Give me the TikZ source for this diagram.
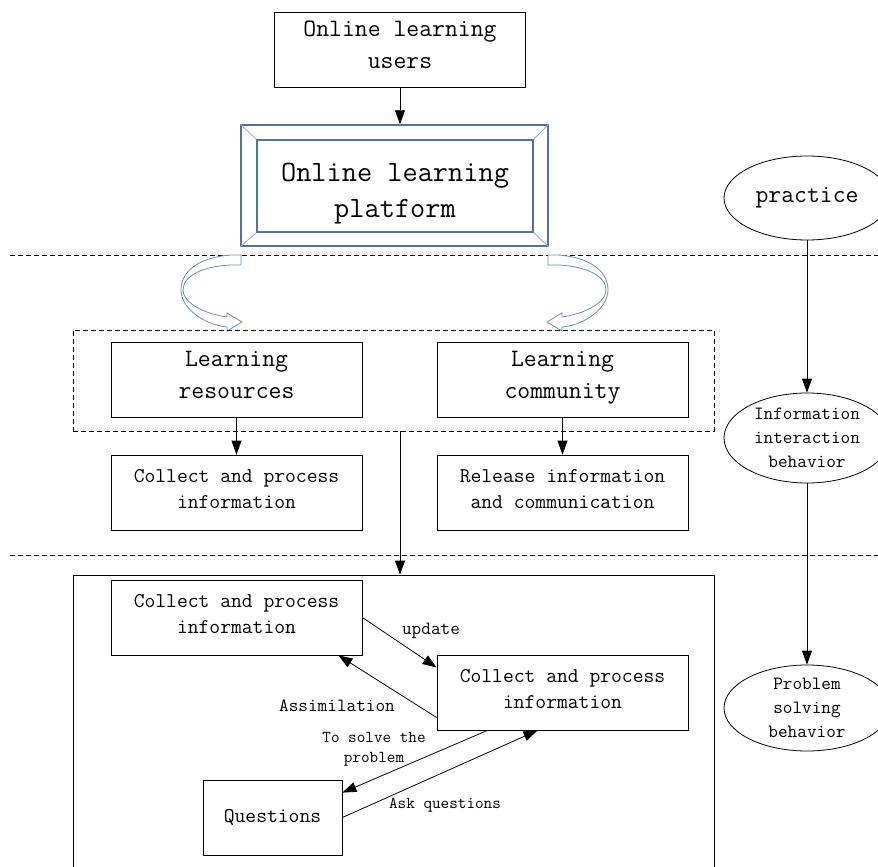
\documentclass[tikz,border=0pt]{standalone}
\usepackage{fontspec}
\usepackage{xcolor}
\usepackage{tikz}
\usetikzlibrary{shapes,arrows.meta,calc,positioning}

\definecolor{frameBlue}{RGB}{84,115,152}
\definecolor{ribbonBlue}{RGB}{112,142,178}
\definecolor{bevelBlue}{RGB}{150,175,205}

\tikzset{
    ribbon/.pic={
        % hollow curved arrow, drawn from its upper end
        \draw[ribbonBlue, line width=0.8pt, fill=white]
            (0,0) -- (-10,0) .. controls (-40,2) and (-60,15) .. (-60,35)
            .. controls (-60,53) and (-37,70) .. (-14,72) -- (-14,76) -- (1,67) -- (-14,58) -- (-14,62)
            .. controls (-36,59) and (-58,48) .. (-58,35)
            .. controls (-58,20) and (-36,11) .. (-10,10) -- (0,10) -- cycle;
    }
}

\begin{document}
\begin{tikzpicture}[x=1pt, y=-1pt,
        box/.style={draw, line width=0.8pt, minimum width=251pt, minimum height=75pt,
                    inner sep=0pt, align=center, execute at begin node=\strut, execute at end node=\strut},
        bigtext/.style={font=\fontsize{25}{32}\selectfont\ttfamily},
        midtext/.style={font=\fontsize{21}{26}\selectfont\ttfamily},
        smalltext/.style={font=\fontsize{18.7}{24}\selectfont\ttfamily},
        tinytext/.style={font=\fontsize{16.7}{20}\selectfont\ttfamily, align=center},
        oval/.style={draw, ellipse, line width=0.8pt, minimum width=166pt, inner sep=0pt, align=center},
        arr/.style={-{Triangle[length=14pt,width=10pt]}, line width=0.8pt},
        sep/.style={dash pattern=on 5pt off 3pt, line width=0.7pt}]

        \useasboundingbox (0,0) rectangle (878,867);

        % separators
        \draw[sep] (10,255) -- (878,255);
        \draw[sep] (10,555) -- (878,555);

        % top part
        \node[box, bigtext] (users) at (400,49.5) {Online learning\\users};
        \node[draw=frameBlue, line width=1.5pt, minimum width=307pt, minimum height=121pt] (frame) at (394.5,185.5) {};
        \node[draw=frameBlue, line width=1.5pt, minimum width=276pt, minimum height=92pt] (platform) at (395,186) {};
        \node[align=center, font=\fontsize{29.5}{36}\selectfont\ttfamily] (ptext) at (395,194) {Online learning\\platform};
        \foreach \c in {north west, north east, south west, south east} {
            \draw[bevelBlue, line width=0.8pt] (frame.\c) -- (platform.\c);
        }
        \draw[arr] (users) -- (users |- frame.north);

        % curved arrows
        \pic at (241,255) {ribbon};
        \pic[xscale=-1] at (548,255) {ribbon};

        % middle part
        \node[draw, sep, minimum width=641pt, minimum height=101pt] (group) at (393.5,380.5) {};
        \node[box, bigtext] (res) at (236.5,380) {Learning\\resources};
        \node[box, bigtext] (com) at (562.5,380) {Learning\\community};
        \node[box, midtext] (col1) at (236.5,492.5) {Collect and process\\information};
        \node[box, midtext] (rel) at (562.5,492.5) {Release information\\and communication};
        \draw[arr] (res) -- (col1);
        \draw[arr] (com) -- (rel);

        % lower part
        \node[draw, line width=0.8pt, minimum width=641pt, minimum height=310pt] (work) at (393.5,730) {};
        \draw[arr] (group.south -| users) -- (work.north -| users);
        \node[box, midtext] (col2) at (236.5,617.5) {Collect and process\\information};
        \node[box, midtext] (col3) at (562.5,692.5) {Collect and process\\information};
        \node[box, midtext, minimum width=139pt] (quest) at (272.5,817.5) {Questions};

        \draw[arr] (col2.east) -- ([yshift=25pt]col3.west);
        \draw[arr] ([yshift=-25pt]col3.west) -- ([xshift=-24pt]col2.south east);
        \draw[arr] ([xshift=-75pt]col3.south) -- ([yshift=-13pt]quest.north east);
        \draw[arr] (quest.east) -- ([xshift=-25pt]col3.south);

        \node[smalltext] (lupdate) at (431,631) {update};
        \node[smalltext] (lassim) at (337,706) {Assimilation};
        \node[tinytext] (lsolve) at (374,749) {To solve the\\problem};
        \node[tinytext] (lask) at (445,805) {Ask questions};

        % right column
        \node[oval, bigtext, minimum height=84pt] (practice) at (807,198) {practice};
        \node[oval, smalltext, minimum height=90pt] (info) at (807,438) {Information\\interaction\\behavior};
        \node[oval, smalltext, minimum height=86pt] (prob) at (807,708) {Problem\\solving\\behavior};
        \draw[arr] (practice) -- (info);
        \draw[arr] (info) -- (prob);

\end{tikzpicture}
\end{document}
